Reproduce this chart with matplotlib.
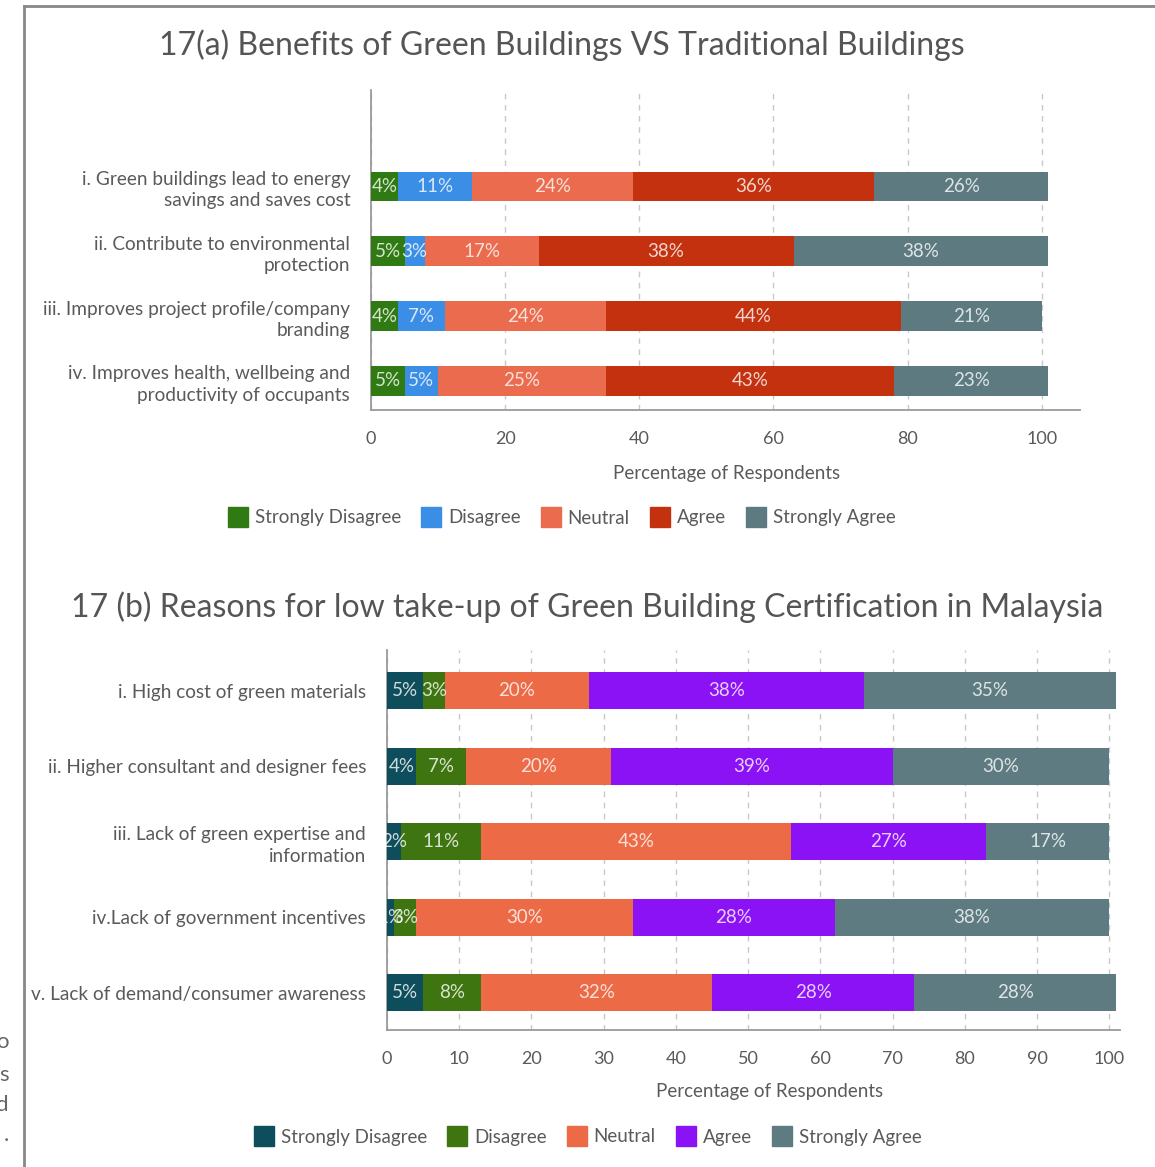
import matplotlib.pyplot as plt
from matplotlib.lines import Line2D
import numpy as np

plt.rcParams['font.family'] = ['Lato', 'DejaVu Sans']

levels = ["Strongly Disagree", "Disagree", "Neutral", "Agree", "Strongly Agree"]

# 17(a) benefits
benefits = [
    "i. Green buildings lead to energy\nsavings and saves cost",
    "ii. Contribute to environmental\nprotection",
    "iii. Improves project profile/company\nbranding",
    "iv. Improves health, wellbeing and\nproductivity of occupants",
]
ben_sd = [4, 5, 4, 5]
ben_d = [11, 3, 7, 5]
ben_n = [24, 17, 24, 25]
ben_a = [36, 38, 44, 43]
ben_sa = [26, 38, 21, 23]
ben_colors = ["#2f7a12", "#3b8ee6", "#ea6b4e", "#c3310f", "#5c7a80"]

# 17(b) reasons for low take-up
reasons = [
    "i. High cost of green materials",
    "ii. Higher consultant and designer fees",
    "iii. Lack of green expertise and\ninformation",
    "iv.Lack of government incentives",
    "v. Lack of demand/consumer awareness",
]
rea_sd = [5, 4, 2, 1, 5]
rea_d = [3, 7, 11, 3, 8]
rea_n = [20, 20, 43, 30, 32]
rea_a = [38, 39, 27, 28, 28]
rea_sa = [35, 30, 17, 38, 28]
rea_colors = ["#0e4d5b", "#3e7510", "#ec6a45", "#8b12f5", "#5e7b81"]

grey = "#5a5a5a"
W, H = 1155, 1167


def fx(px):
    return px / W


def fy(py):
    return 1 - py / H


def stacked(ax, cats, series, colors, height):
    y = np.arange(len(cats))
    left = np.zeros(len(cats))
    for vals, col, name in zip(series, colors, levels):
        vals = np.array(vals, dtype=float)
        bars = ax.barh(y, vals, left=left, height=height, color=col, label=name, zorder=3)
        for b, v in zip(bars, vals):
            ax.text(b.get_x() + b.get_width() / 2, b.get_y() + b.get_height() / 2,
                    f"{int(v)}%", ha="center", va="center", fontsize=13.5,
                    color="white", alpha=0.8, zorder=4)
        left += vals
    ax.set_yticks(y)
    ax.set_yticklabels(cats, fontsize=13.5, color=grey, linespacing=1.3)
    ax.tick_params(axis="both", length=0, colors=grey, labelsize=13)
    ax.tick_params(axis="y", pad=15, labelsize=13.7)
    ax.tick_params(axis="x", pad=15)
    for s in ["top", "right"]:
        ax.spines[s].set_visible(False)
    for s in ["left", "bottom"]:
        ax.spines[s].set_color("#9a9a9a")
        ax.spines[s].set_linewidth(1.3)
    ax.grid(axis="x", linestyle=(0, (4, 4)), color="#c8c8c8", linewidth=1, zorder=0)
    ax.set_xlabel("Percentage of Respondents", fontsize=13.5, color=grey)


fig = plt.figure(figsize=(W / 100, H / 100), dpi=100)

# top chart
ax1 = fig.add_axes([fx(371), fy(410), fx(1080 - 371), (410 - 90) / H])
stacked(ax1, benefits, [ben_sd, ben_d, ben_n, ben_a, ben_sa], ben_colors, 0.46)
ax1.set_xlim(0, 105.7)
ax1.set_ylim(3.45, -1.49)
ax1.set_xticks([0, 20, 40, 60, 80, 100])
ax1.xaxis.set_label_coords((727 - 371) / (1080 - 371), -(465 - 410) / (410 - 90))

# bottom chart
ax2 = fig.add_axes([fx(387), fy(1030), fx(1120 - 387), (1030 - 650) / H])
stacked(ax2, reasons, [rea_sd, rea_d, rea_n, rea_a, rea_sa], rea_colors, 0.49)
ax2.set_xlim(0, 101.5)
ax2.set_ylim(4.49, -0.54)
ax2.set_xticks(np.arange(0, 101, 10))
ax2.xaxis.set_label_coords((770 - 387) / (1120 - 387), -(1083 - 1030) / (1030 - 650))

# titles
fig.text(fx(562), fy(45), "17(a) Benefits of Green Buildings VS Traditional Buildings",
         ha="center", va="center", fontsize=23, color="#555555")
fig.text(fx(587), fy(607), "17 (b) Reasons for low take-up of Green Building Certification in Malaysia",
         ha="center", va="center", fontsize=23, color="#555555")

# legends
def legend(colors, x, y):
    handles = [Line2D([], [], marker="s", linestyle="none", markersize=14,
                      markerfacecolor=c, markeredgecolor=c) for c in colors]
    fig.legend(handles, levels, loc="center", bbox_to_anchor=(fx(x), fy(y)), ncol=5,
               frameon=False, fontsize=13.5, labelcolor=grey, handletextpad=0.4,
               columnspacing=1.1, handlelength=1.0)


legend(ben_colors, 562, 518)
legend(rea_colors, 588, 1137)

# page frame from the screenshot
fig.add_artist(Line2D([fx(24), 1], [fy(6), fy(6)], color="#888888", linewidth=2))
fig.add_artist(Line2D([fx(24), fx(24)], [fy(6), 0], color="#888888", linewidth=2))
for ch, py in zip(["o", "s", "d", "."], [1042, 1075, 1105, 1135]):
    fig.text(fx(9), fy(py), ch, ha="right", va="center", fontsize=16, color="#666666")

fig.savefig("out.png", dpi=100)
